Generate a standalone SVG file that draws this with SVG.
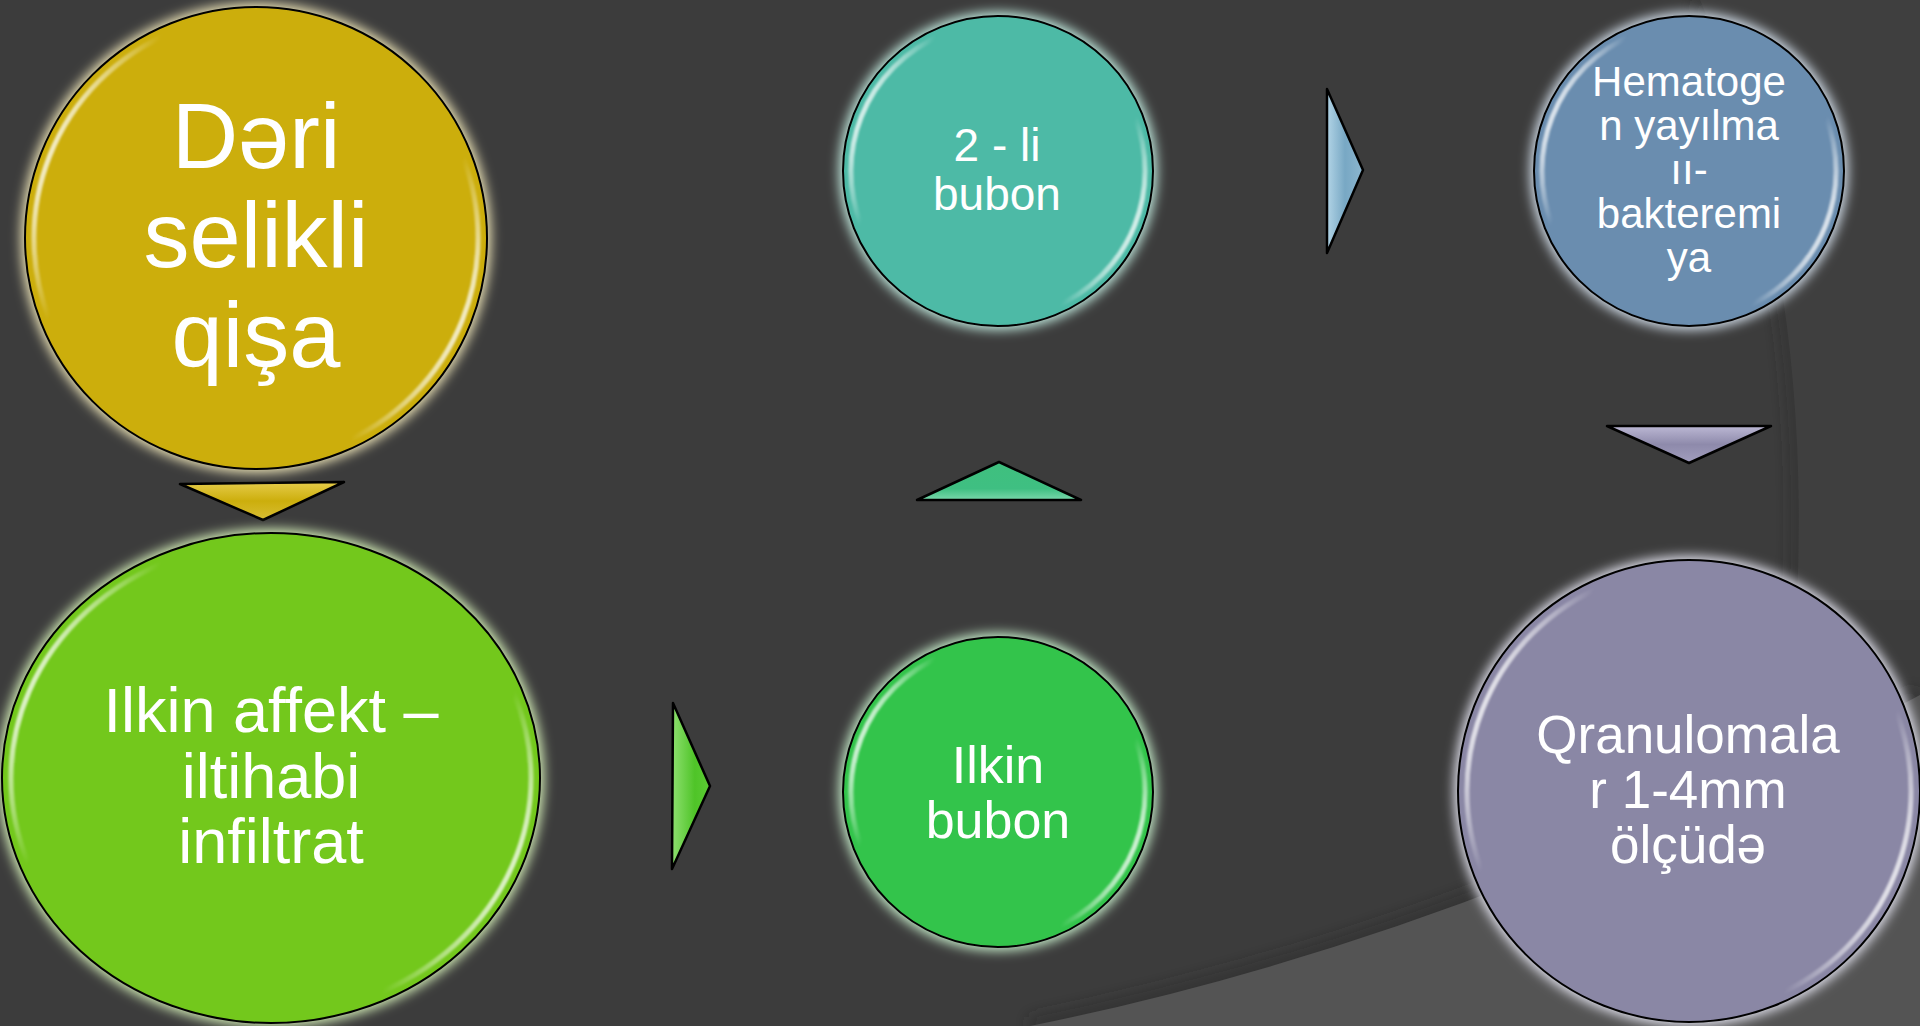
<svg xmlns="http://www.w3.org/2000/svg" width="1920" height="1026" viewBox="0 0 1920 1026">
  <defs>
    <style>
      .halo { filter: url(#soft); }
      .disc { stroke: #000; stroke-width: 2; }
      .gloss { fill: none; stroke: url(#gloss); stroke-width: 5; filter: url(#blur1); }
      .label { font-family: "Liberation Sans", Arial, sans-serif; fill: #fff; text-anchor: middle; }
      .arrow { stroke: #000; stroke-width: 2.5; stroke-linejoin: round; }
    </style>
    <filter id="soft" x="-20%" y="-20%" width="140%" height="140%">
      <feGaussianBlur stdDeviation="6"/>
    </filter>
    <filter id="blur1" x="-10%" y="-10%" width="120%" height="120%">
      <feGaussianBlur stdDeviation="1.2"/>
    </filter>
    <filter id="shade" x="-20%" y="-20%" width="140%" height="140%">
      <feGaussianBlur stdDeviation="8"/>
    </filter>
    <!-- rim highlight: bright on the upper-left and lower-right -->
    <linearGradient id="gloss" x1="0" y1="0.3" x2="1" y2="0.7">
      <stop offset="0" stop-color="#fff" stop-opacity="0.95"/>
      <stop offset="0.16" stop-color="#fff" stop-opacity="0"/>
      <stop offset="0.84" stop-color="#fff" stop-opacity="0"/>
      <stop offset="1" stop-color="#fff" stop-opacity="0.95"/>
    </linearGradient>
    <linearGradient id="gYellow" x1="0" y1="0" x2="0" y2="1">
      <stop offset="0" stop-color="#e6cc4a"/>
      <stop offset="0.5" stop-color="#ccae0c"/>
      <stop offset="1" stop-color="#d8be34"/>
    </linearGradient>
    <linearGradient id="gGreen" x1="0" y1="0" x2="1" y2="0">
      <stop offset="0" stop-color="#8ee070"/>
      <stop offset="0.6" stop-color="#4fc428"/>
      <stop offset="1" stop-color="#5ccc34"/>
    </linearGradient>
    <linearGradient id="gTeal" x1="0" y1="0" x2="0" y2="1">
      <stop offset="0" stop-color="#3fc07e"/>
      <stop offset="0.7" stop-color="#3fbf82"/>
      <stop offset="1" stop-color="#7ad8ac"/>
    </linearGradient>
    <linearGradient id="gBlue" x1="0" y1="0" x2="1" y2="0">
      <stop offset="0" stop-color="#b2d4e6"/>
      <stop offset="0.5" stop-color="#78a8c4"/>
      <stop offset="1" stop-color="#8cb6cf"/>
    </linearGradient>
    <linearGradient id="gLilac" x1="0" y1="0" x2="0" y2="1">
      <stop offset="0" stop-color="#bcb8d4"/>
      <stop offset="0.5" stop-color="#8e8aab"/>
      <stop offset="1" stop-color="#a29ebe"/>
    </linearGradient>
  </defs>

  <!-- backdrop -->
  <rect width="1920" height="1026" fill="#3c3c3c"/>
  <path d="M1700,0 Q1812,260 1797,600" fill="none" stroke="#2a2a2a" stroke-width="16" stroke-opacity="0.45" filter="url(#shade)"/>
  <path d="M1700,0 Q1812,260 1797,600 L1920,600 L1920,0 Z" fill="#3f3f3f"/>
  <path d="M1030,1026 Q1475,936 1920,695" fill="none" stroke="#2a2a2a" stroke-width="16" stroke-opacity="0.5" filter="url(#shade)"/>
  <path d="M1030,1026 Q1475,936 1920,695 L1920,1026 Z" fill="#545454"/>

  <!-- connectors -->
  <g id="connectors">
    <polygon class="arrow" fill="url(#gYellow)" points="180,484 344,482 263,520"/>
    <polygon class="arrow" fill="url(#gGreen)" points="673,703 710,786 672,869"/>
    <polygon class="arrow" fill="url(#gTeal)" points="917,500 999,462 1081,500"/>
    <polygon class="arrow" fill="url(#gBlue)" points="1327,89 1363,170 1327,253"/>
    <polygon class="arrow" fill="url(#gLilac)" points="1607,426 1771,426 1689,463"/>
  </g>

  <g id="node-deri">
    <circle class="halo" cx="256" cy="238" r="235" fill="#efe6b8"/>
    <circle class="disc" cx="256" cy="238" r="231" fill="#ccae0c"/>
    <circle class="gloss" cx="256" cy="238" r="222"/>
    <text class="label" font-size="92"><tspan x="256" y="168">Dəri</tspan><tspan x="256" y="267">selikli</tspan><tspan x="256" y="367">qişa</tspan></text>
  </g>

  <g id="node-ilkin-affekt">
    <ellipse class="halo" cx="271" cy="778" rx="273" ry="249" fill="#d6f0b8"/>
    <ellipse class="disc" cx="271" cy="778" rx="269" ry="245" fill="#73c81c"/>
    <ellipse class="gloss" cx="271" cy="778" rx="260" ry="236"/>
    <text class="label" font-size="63"><tspan x="271" y="732">Ilkin affekt –</tspan><tspan x="271" y="798">iltihabi</tspan><tspan x="271" y="863">infiltrat</tspan></text>
  </g>

  <g id="node-ilkin-bubon">
    <circle class="halo" cx="998" cy="792" r="159" fill="#c8efcc"/>
    <circle class="disc" cx="998" cy="792" r="155" fill="#33c44b"/>
    <circle class="gloss" cx="998" cy="792" r="147"/>
    <text class="label" font-size="52"><tspan x="998" y="783">Ilkin</tspan><tspan x="998" y="838">bubon</tspan></text>
  </g>

  <g id="node-ikinci-bubon">
    <circle class="halo" cx="998" cy="171" r="159" fill="#c4eee2"/>
    <circle class="disc" cx="998" cy="171" r="155" fill="#4dbaa6"/>
    <circle class="gloss" cx="998" cy="171" r="147"/>
    <text class="label" font-size="46"><tspan x="997" y="161">2 - li</tspan><tspan x="997" y="210">bubon</tspan></text>
  </g>

  <g id="node-hematogen">
    <circle class="halo" cx="1689" cy="171" r="159" fill="#d4e0ec"/>
    <circle class="disc" cx="1689" cy="171" r="155" fill="#6a8daf"/>
    <circle class="gloss" cx="1689" cy="171" r="147"/>
    <text class="label" font-size="42"><tspan x="1689" y="96">Hematoge</tspan><tspan x="1689" y="140">n yayılma</tspan><tspan x="1689" y="184">ıı-</tspan><tspan x="1689" y="228">bakteremi</tspan><tspan x="1689" y="272">ya</tspan></text>
  </g>

  <g id="node-qranulomalar">
    <circle class="halo" cx="1689" cy="791" r="235" fill="#e2e2ee"/>
    <circle class="disc" cx="1689" cy="791" r="231" fill="#8a87a5"/>
    <circle class="gloss" cx="1689" cy="791" r="222"/>
    <text class="label" font-size="53"><tspan x="1688" y="753">Qranulomala</tspan><tspan x="1688" y="808">r 1-4mm</tspan><tspan x="1688" y="863">ölçüdə</tspan></text>
  </g>
</svg>
